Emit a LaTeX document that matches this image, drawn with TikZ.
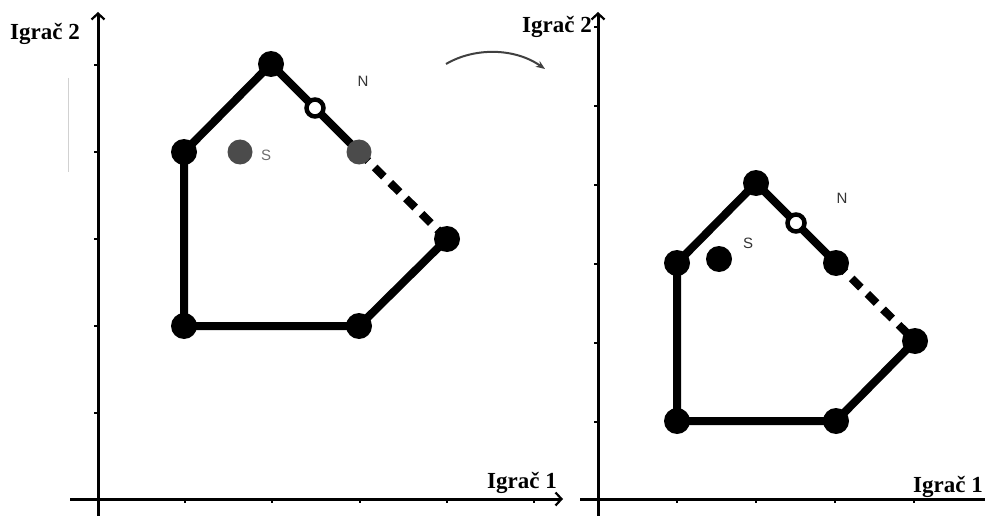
\documentclass[tikz,border=0pt]{standalone}
\usepackage{fontspec}
\setmainfont{Liberation Serif}
\newfontfamily\labsans{Liberation Sans}
\usetikzlibrary{arrows.meta}
\definecolor{dotgrey}{RGB}{75,75,75}
\definecolor{labgrey}{RGB}{110,110,110}
\begin{document}
\begin{tikzpicture}[x=1pt,y=-1pt,
  axisline/.style={line width=3pt,-{Straight Barb[length=6pt,width=13pt,line width=2.2pt]}},
  axisplain/.style={line width=3pt},
  tick/.style={line width=1.8pt},
  edge/.style={line width=8pt,line cap=round,line join=round},
  dashedge/.style={line width=8pt,dash pattern=on 13pt off 9pt},
  vdot/.style={circle,fill=black,inner sep=0pt,minimum size=26pt},
  gdot/.style={circle,fill=dotgrey,inner sep=0pt,minimum size=25pt},
  hollow/.style={circle,draw=black,fill=white,line width=4.5pt,inner sep=0pt,minimum size=17pt},
  axlabel/.style={inner sep=0pt,font=\fontsize{23}{26}\selectfont\bfseries},
  ptlabel/.style={inner sep=0pt,font=\labsans\fontsize{15}{17}\selectfont}
]
\useasboundingbox (0,0) rectangle (985,516);
\fill[white] (0,0) rectangle (985,516);

% faint scan line
\coordinate (f1) at (68,78);
\coordinate (f2) at (68,172);
\draw[black!18,line width=0.7pt] (f1) -- (f2);

% ---------- left axes ----------
\coordinate (LyB) at (98,516);
\coordinate (LyT) at (98,12);
\coordinate (LxL) at (70,499);
\coordinate (LxR) at (563,499);
\draw[axisline] (LyB) -- (LyT);
\draw[axisline] (LxL) -- (LxR);
\foreach \t in {185,272,360,447,534} \draw[tick] (\t,499) -- (\t,503);
\foreach \t in {65,152,239,326,413} \draw[tick] (98,\t) -- (94,\t);

\node[axlabel,anchor=base west] (LI2) at (10,40) {Igrač 2};
\node[axlabel,anchor=base west] (LI1) at (487,488) {Igrač 1};

% ---------- left polygon ----------
\coordinate (A1) at (184,152);
\coordinate (A2) at (271,64);
\coordinate (A3) at (359,152);
\coordinate (A4) at (447,239);
\coordinate (A5) at (359,326);
\coordinate (A6) at (184,326);
\draw[edge] (A3) -- (A2) -- (A1) -- (A6) -- (A5) -- (A4);
\draw[dashedge] (A3) -- (A4);
\node[vdot] (a1) at (A1) {};
\node[vdot] (a2) at (A2) {};
\node[vdot] (a4) at (A4) {};
\node[vdot] (a5) at (A5) {};
\node[vdot] (a6) at (A6) {};
\node[gdot] (a3) at (A3) {};
\node[hollow] (aN) at (315,108) {};
\node[gdot] (aS) at (240,152) {};
\node[ptlabel,text=labgrey] (aSl) at (266,155) {S};
\node[ptlabel,text=black!80] (aNl) at (363,81) {N};

% ---------- curved arrow ----------
\coordinate (c1) at (446,64);
\coordinate (c2) at (545,69);
\draw[black!75,line width=2pt,-{Stealth[length=9pt,width=7pt]}] (c1) .. controls (475,47) and (515,48) .. (c2);

% ---------- right axes ----------
\coordinate (RyB) at (598,516);
\coordinate (RyT) at (598,12);
\coordinate (RxL) at (580,499);
\coordinate (RxR) at (985,499);
\draw[axisline] (RyB) -- (RyT);
\draw[axisplain] (RxL) -- (RxR);
\foreach \t in {677,756,835,914} \draw[tick] (\t,499) -- (\t,503);
\foreach \t in {27,106,185,264,343,422} \draw[tick] (598,\t) -- (594,\t);

\node[axlabel,anchor=base west] (RI2) at (522,33) {Igrač 2};
\node[axlabel,anchor=base west] (RI1) at (913,492) {Igrač 1};

% ---------- right polygon ----------
\coordinate (B1) at (677,263);
\coordinate (B2) at (756,183);
\coordinate (B3) at (836,263);
\coordinate (B4) at (915,341);
\coordinate (B5) at (836,421);
\coordinate (B6) at (677,421);
\draw[edge] (B3) -- (B2) -- (B1) -- (B6) -- (B5) -- (B4);
\draw[dashedge] (B3) -- (B4);
\node[vdot] (b1) at (B1) {};
\node[vdot] (b2) at (B2) {};
\node[vdot] (b3) at (B3) {};
\node[vdot] (b4) at (B4) {};
\node[vdot] (b5) at (B5) {};
\node[vdot] (b6) at (B6) {};
\node[hollow] (bN) at (796,223) {};
\node[vdot] (bS) at (719,259) {};
\node[ptlabel,text=black!80] (bSl) at (748,243) {S};
\node[ptlabel,text=black!80] (bNl) at (842,198) {N};
\end{tikzpicture}
\end{document}
